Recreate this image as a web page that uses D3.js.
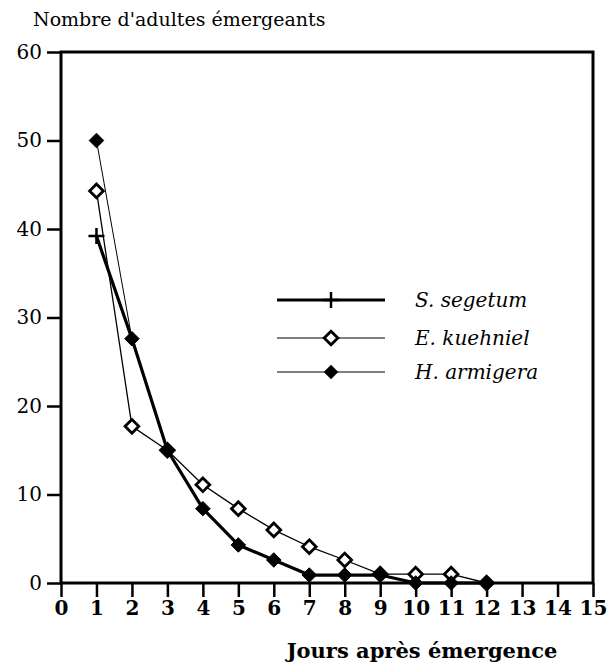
<!DOCTYPE html>
<html>
<head>
<meta charset="utf-8">
<script src="https://cdn.jsdelivr.net/npm/d3@7"></script>
<style>
  body { margin: 0; background: #fff; }
</style>
</head>
<body>
<div id="chart"></div>
<script>
// values
var days = [1, 2, 3, 4, 5, 6, 7, 8, 9, 10, 11, 12];
var segetum  = [39.2, 27.6, 15, 8.4, 4.3, 2.6, 0.9, 0.9, 0.9, 0, 0, 0];
var kuehniel = [44.3, 17.7, 15, 11.1, 8.4, 6.0, 4.1, 2.6, 1.0, 1.0, 1.0, 0];
var armigera = [50, 27.6, 15, 8.4, 4.3, 2.6, 0.9, 0.9, 0.9, 0, 0, 0];

var xTicks = d3.range(0, 16);
var yTicks = [0, 10, 20, 30, 40, 50, 60];
var seriesNames = ["S. segetum", "E. kuehniel", "H. armigera"];

var W = 610, H = 666;
var mLeft = 61, mRight = 593, mTop = 52, mBottom = 583;
var serif = "'DejaVu Serif', 'Liberation Serif', serif";

var svg = d3.select('#chart').append('svg')
  .attr('width', W)
  .attr('height', H);

var x = d3.scaleLinear().domain([0, 15]).range([mLeft, mRight]);
var y = d3.scaleLinear().domain([0, 60]).range([mBottom, mTop]);

// y axis
var yAxis = svg.append('g')
  .attr('transform', 'translate(' + mLeft + ',0)')
  .call(d3.axisLeft(y).tickValues(yTicks).tickSize(14).tickSizeOuter(0).tickPadding(5));
yAxis.select('.domain').remove();
yAxis.selectAll('line').attr('stroke', '#000').attr('stroke-width', 2.5);
yAxis.selectAll('text')
  .style('font-family', serif)
  .style('font-size', '20px')
  .attr('fill', '#000');

// x axis
var xAxis = svg.append('g')
  .attr('transform', 'translate(0,' + mBottom + ')')
  .call(d3.axisBottom(x).tickValues(xTicks).tickSize(14).tickSizeOuter(0).tickPadding(4));
xAxis.select('.domain').remove();
xAxis.selectAll('line').attr('stroke', '#000').attr('stroke-width', 2.5);
xAxis.selectAll('text')
  .style('font-family', serif)
  .style('font-size', '20px')
  .style('font-weight', 'bold')
  .attr('fill', '#000');

// frame
svg.append('rect')
  .attr('x', mLeft).attr('y', mTop)
  .attr('width', mRight - mLeft).attr('height', mBottom - mTop)
  .attr('fill', 'none')
  .attr('stroke', '#000')
  .attr('stroke-width', 3);

// axis titles
svg.append('text')
  .attr('x', 33).attr('y', 26)
  .style('font-family', serif)
  .style('font-size', '19px')
  .text("Nombre d'adultes émergeants");

svg.append('text')
  .attr('x', 422).attr('y', 658)
  .attr('text-anchor', 'middle')
  .style('font-family', serif)
  .style('font-size', '21px')
  .style('font-weight', 'bold')
  .text('Jours après émergence');

// lines
function pts(vals) {
  return days.map(function(d, i) { return [d, vals[i]]; });
}
var line = d3.line()
  .x(function(d) { return x(d[0]); })
  .y(function(d) { return y(d[1]); });

svg.append('path').datum(pts(kuehniel))
  .attr('d', line).attr('fill', 'none').attr('stroke', '#000').attr('stroke-width', 1.3);
svg.append('path').datum(pts(armigera))
  .attr('d', line).attr('fill', 'none').attr('stroke', '#000').attr('stroke-width', 1);
svg.append('path').datum(pts(segetum))
  .attr('d', line).attr('fill', 'none').attr('stroke', '#000').attr('stroke-width', 3.2)
  .attr('stroke-linejoin', 'round');

// markers
var openDiamond = d3.symbol().type(d3.symbolDiamond2).size(120);
var fillDiamond = d3.symbol().type(d3.symbolDiamond2).size(135);
var plus = 'M-8,0H8M0,-8V8';

svg.selectAll('.ek').data(pts(kuehniel)).enter().append('path')
  .attr('class', 'ek')
  .attr('transform', function(d) { return 'translate(' + x(d[0]) + ',' + y(d[1]) + ')'; })
  .attr('d', openDiamond)
  .attr('fill', '#fff').attr('stroke', '#000').attr('stroke-width', 2.8);

svg.selectAll('.ha').data(pts(armigera)).enter().append('path')
  .attr('class', 'ha')
  .attr('transform', function(d) { return 'translate(' + x(d[0]) + ',' + y(d[1]) + ')'; })
  .attr('d', fillDiamond)
  .attr('fill', '#000').attr('stroke', '#000').attr('stroke-width', 1);

svg.selectAll('.ss').data(pts(segetum).slice(0, 1)).enter().append('path')
  .attr('class', 'ss')
  .attr('transform', function(d) { return 'translate(' + x(d[0]) + ',' + y(d[1]) + ')'; })
  .attr('d', plus)
  .attr('fill', 'none').attr('stroke', '#000').attr('stroke-width', 2.5);

// legend
var legY = [300, 338, 372];
var legW = [3, 1.2, 1];
var leg = svg.selectAll('.leg').data(seriesNames).enter().append('g')
  .attr('class', 'leg')
  .attr('transform', function(d, i) { return 'translate(0,' + legY[i] + ')'; });

leg.append('line')
  .attr('x1', 277).attr('x2', 385)
  .attr('stroke', '#000')
  .attr('stroke-width', function(d, i) { return legW[i]; });

leg.each(function(d, i) {
  var g = d3.select(this);
  if (i == 0) {
    g.append('path').attr('transform', 'translate(331,0)').attr('d', plus)
      .attr('stroke', '#000').attr('stroke-width', 2.5);
  } else if (i == 1) {
    g.append('path').attr('transform', 'translate(331,0)').attr('d', openDiamond)
      .attr('fill', '#fff').attr('stroke', '#000').attr('stroke-width', 2.8);
  } else {
    g.append('path').attr('transform', 'translate(331,0)').attr('d', fillDiamond)
      .attr('fill', '#000');
  }
});

leg.append('text')
  .attr('x', 415).attr('y', 7)
  .style('font-family', serif)
  .style('font-size', '20px')
  .style('font-style', 'italic')
  .text(function(d) { return d; });
</script>
</body>
</html>
